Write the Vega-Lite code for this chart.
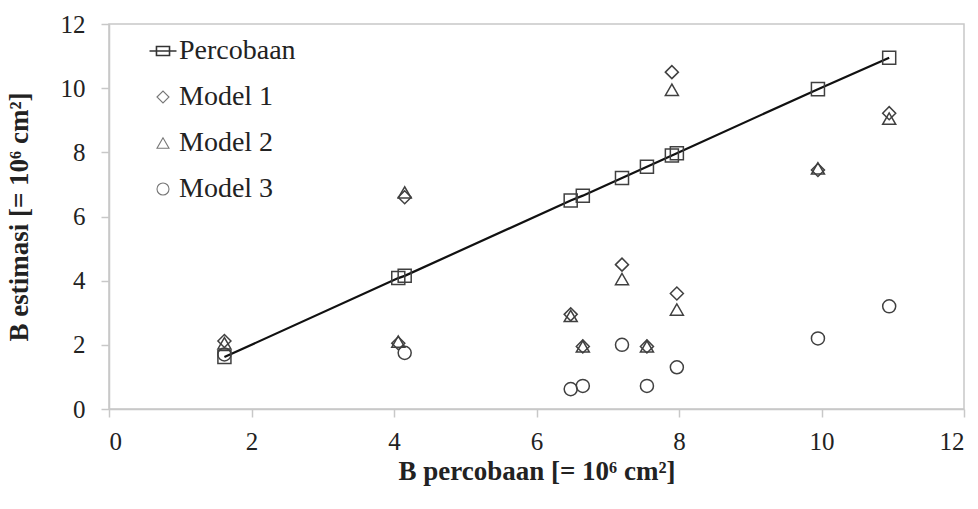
{
  "$schema": "https://vega.github.io/schema/vega-lite/v6.json",
  "width": 855,
  "height": 385,
  "autosize": "none",
  "padding": {"left": 109, "top": 24, "right": 14, "bottom": 100},
  "background": "white",
  "config": {
    "font": "Liberation Serif",
    "view": {"stroke": "#c8c8c8", "strokeWidth": 1.5},
    "axis": {
      "grid": false,
      "domainColor": "#c8c8c8",
      "domainWidth": 1.5,
      "tickColor": "#c8c8c8",
      "tickWidth": 1.5,
      "tickSize": 8,
      "labelFont": "Liberation Serif",
      "labelFontSize": 25,
      "labelColor": "#222",
      "titleFont": "Liberation Serif",
      "titleFontSize": 27,
      "titleFontWeight": "bold",
      "titleColor": "#222"
    }
  },
  "data": {
    "values": [
      {"x": 1.62, "y": 1.62, "series": "Percobaan"},
      {"x": 4.06, "y": 4.08, "series": "Percobaan"},
      {"x": 4.15, "y": 4.15, "series": "Percobaan"},
      {"x": 6.48, "y": 6.5, "series": "Percobaan"},
      {"x": 6.65, "y": 6.65, "series": "Percobaan"},
      {"x": 7.2, "y": 7.2, "series": "Percobaan"},
      {"x": 7.55, "y": 7.55, "series": "Percobaan"},
      {"x": 7.9, "y": 7.9, "series": "Percobaan"},
      {"x": 7.97, "y": 7.97, "series": "Percobaan"},
      {"x": 9.95, "y": 9.97, "series": "Percobaan"},
      {"x": 10.95, "y": 10.95, "series": "Percobaan"},
      {"x": 1.62, "y": 2.12, "series": "Model 1"},
      {"x": 4.06, "y": 2.05, "series": "Model 1"},
      {"x": 4.15, "y": 6.6, "series": "Model 1"},
      {"x": 6.48, "y": 2.95, "series": "Model 1"},
      {"x": 6.65, "y": 1.95, "series": "Model 1"},
      {"x": 7.2, "y": 4.5, "series": "Model 1"},
      {"x": 7.55, "y": 1.95, "series": "Model 1"},
      {"x": 7.9, "y": 10.5, "series": "Model 1"},
      {"x": 7.97, "y": 3.6, "series": "Model 1"},
      {"x": 9.95, "y": 7.45, "series": "Model 1"},
      {"x": 10.95, "y": 9.22, "series": "Model 1"},
      {"x": 1.62, "y": 2.05, "series": "Model 2"},
      {"x": 4.06, "y": 2.1, "series": "Model 2"},
      {"x": 4.15, "y": 6.75, "series": "Model 2"},
      {"x": 6.48, "y": 2.9, "series": "Model 2"},
      {"x": 6.65, "y": 1.95, "series": "Model 2"},
      {"x": 7.2, "y": 4.05, "series": "Model 2"},
      {"x": 7.55, "y": 1.95, "series": "Model 2"},
      {"x": 7.9, "y": 9.95, "series": "Model 2"},
      {"x": 7.97, "y": 3.1, "series": "Model 2"},
      {"x": 9.95, "y": 7.5, "series": "Model 2"},
      {"x": 10.95, "y": 9.05, "series": "Model 2"},
      {"x": 1.62, "y": 1.7, "series": "Model 3"},
      {"x": 4.15, "y": 1.75, "series": "Model 3"},
      {"x": 6.48, "y": 0.62, "series": "Model 3"},
      {"x": 6.65, "y": 0.72, "series": "Model 3"},
      {"x": 7.2, "y": 2.0, "series": "Model 3"},
      {"x": 7.55, "y": 0.72, "series": "Model 3"},
      {"x": 7.97, "y": 1.3, "series": "Model 3"},
      {"x": 9.95, "y": 2.2, "series": "Model 3"},
      {"x": 10.95, "y": 3.2, "series": "Model 3"}
    ]
  },
  "encoding": {
    "x": {
      "field": "x", "type": "quantitative",
      "scale": {"domain": [0, 12], "nice": false, "zero": true},
      "axis": {"values": [0, 2, 4, 6, 8, 10, 12], "labelPadding": 12, "title": "B percobaan [= 10⁶ cm²]", "titlePadding": 4}
    },
    "y": {
      "field": "y", "type": "quantitative",
      "scale": {"domain": [0, 12], "nice": false},
      "axis": {"values": [0, 2, 4, 6, 8, 10, 12], "labelPadding": 16, "title": "B estimasi [= 10⁶ cm²]", "titlePadding": 27}
    }
  },
  "layer": [
    {
      "transform": [{"filter": "datum.series === 'Percobaan'"}],
      "mark": {"type": "line", "color": "#111", "strokeWidth": 2.2},
      "encoding": {"order": {"field": "x"}}
    },
    {
      "transform": [{"filter": "datum.series === 'Percobaan'"}],
      "mark": {"type": "point", "shape": "square", "filled": false, "strokeWidth": 1.5, "color": "#404040", "opacity": 1, "size": 170}
    },
    {
      "transform": [{"filter": "datum.series !== 'Percobaan'"}],
      "mark": {"type": "point", "filled": false, "strokeWidth": 1.5, "color": "#404040", "opacity": 1},
      "encoding": {
        "shape": {
          "field": "series", "type": "nominal",
          "scale": {"domain": ["Percobaan", "Model 1", "Model 2", "Model 3"], "range": ["M-1.2,0H1.2M-0.58,-0.4H0.58V0.4H-0.58Z", "diamond", "triangle-up", "circle"]},
          "legend": {
            "title": null,
            "orient": "none",
            "legendX": 40,
            "legendY": 13,
            "labelFont": "Liberation Serif",
            "labelFontSize": 28,
            "labelColor": "#222",
            "symbolSize": 144,
            "symbolStrokeWidth": 1.2,
            "symbolStrokeColor": "#777",
            "symbolFillColor": "transparent",
            "rowPadding": 18,
            "labelOffset": 2,
            "encoding": {
              "symbols": {
                "size": {"value": {"expr": "datum.value === 'Percobaan' ? 506 : 144"}},
                "stroke": {"value": {"expr": "datum.value === 'Percobaan' ? '#333' : '#777'"}},
                "strokeWidth": {"value": {"expr": "datum.value === 'Percobaan' ? 1.6 : 1.1"}}
              }
            }
          }
        },
        "size": {"value": 170}
      }
    }
  ]
}
